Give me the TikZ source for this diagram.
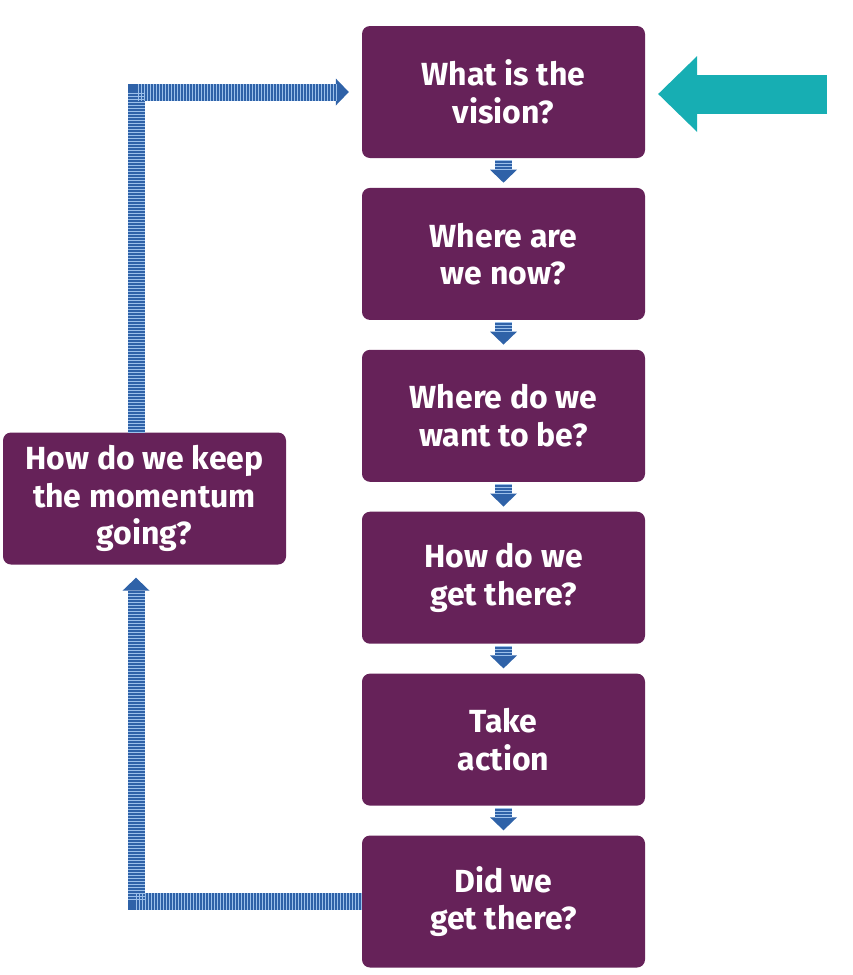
\documentclass[tikz,border=0pt]{standalone}
\usepackage{fontspec}
\setmainfont{Fira Sans}
\usetikzlibrary{positioning,arrows.meta}
\definecolor{boxpurple}{HTML}{662259}
\definecolor{flowblue}{HTML}{2F62A8}
\definecolor{stripeblue}{HTML}{9CC0EA}
\definecolor{startteal}{HTML}{17AEB3}
\tikzset{
  question/.style={fill=boxpurple, rounded corners=8pt, minimum width=283pt, minimum height=132pt,
    text=white, align=center, inner sep=0pt, font=\fontsize{32}{37.5}\selectfont\bfseries},
  flowline/.style={draw=flowblue, line width=17pt, line join=miter,
    -{Triangle[width=27pt,length=13pt,line width=0pt]}},
  stripes/.style={draw=stripeblue, line width=17pt, line join=miter, dash pattern=on 0.7pt off 2.3pt},
  startarrow/.style={draw=startteal, line width=39pt, -{Triangle[width=76pt,length=39pt,line width=0pt]}}
}
\begin{document}
\begin{tikzpicture}[x=1pt,y=-1pt]
    \useasboundingbox (0,0) rectangle (853,975);
    % right column
    \node[question] (vision) at (503.5,92) {What is the\\vision?};
    \node[question, below=29.5pt of vision] (now) {Where are\\we now?};
    \node[question, below=29.5pt of now] (want) {Where do we\\want to be?};
    \node[question, below=29.5pt of want] (how) {How do we\\get there?};
    \node[question, below=29.5pt of how] (action) {Take\\action};
    \node[question, below=29.5pt of action] (got) {Did we\\get there?};
    % left box
    \node[question] (keep) at (144.5,498.5) {How do we keep\\the momentum\\going?};
    % down arrows
    \foreach \a/\b in {vision/now, now/want, want/how, how/action, action/got} {
        \draw[flowline, shorten <=2pt, shorten >=5pt] (\a) -- (\b);
        \draw[stripes, shorten <=2pt, shorten >=18pt] (\a) -- (\b);
    }
    % loop back
    \draw[flowline, shorten >=13pt] ([xshift=-8.5pt]keep.north) |- (vision.west);
    \draw[stripes, shorten >=26pt] ([xshift=-8.5pt]keep.north) |- (vision.west);
    \draw[flowline, shorten >=13pt] (got.west) -| ([xshift=-8.5pt]keep.south);
    \draw[stripes, shorten >=26pt] (got.west) -| ([xshift=-8.5pt]keep.south);
    % start
    \coordinate (start) at (827,94);
    \draw[startarrow, shorten >=13pt] (start) -- (start -| vision.east);
\end{tikzpicture}
\end{document}
